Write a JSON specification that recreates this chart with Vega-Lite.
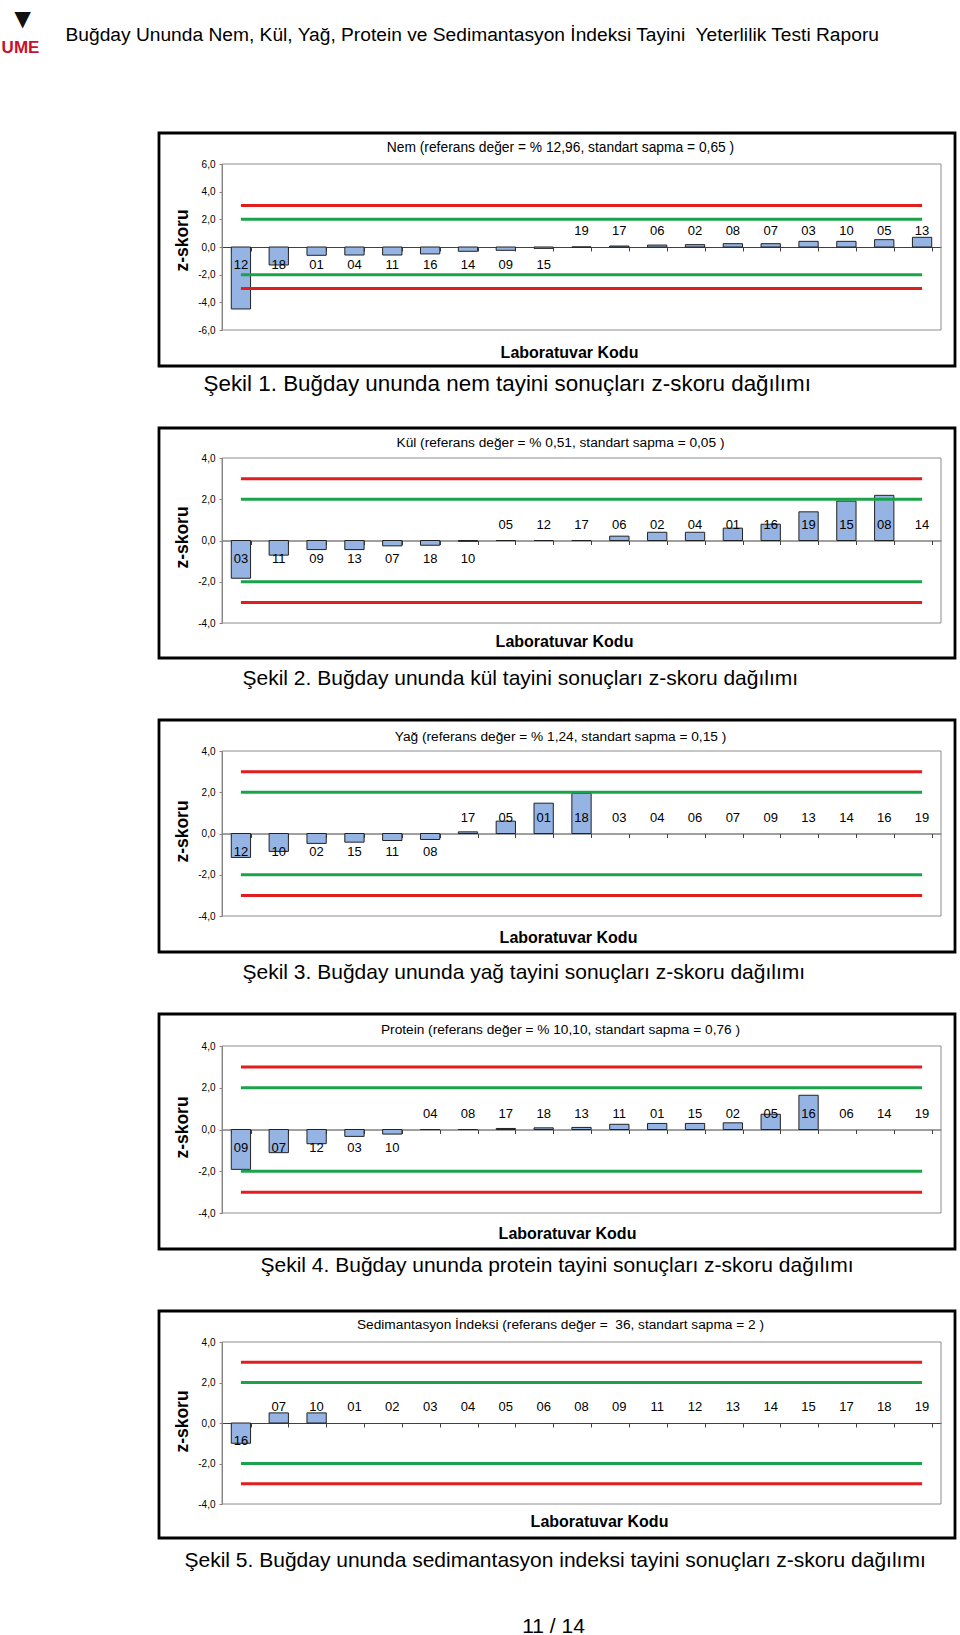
{
 "$schema": "https://vega.github.io/schema/vega-lite/v6.json",
 "autosize": {"type": "none"},
 "padding": {"left": 159, "top": 133, "right": 801, "bottom": 1502},
 "background": "white",
 "spacing": 62,
 "bounds": "flush",
 "datasets": {
  "nem": [{"code":"12","z":-4.48},{"code":"18","z":-1.3},{"code":"01","z":-0.6},{"code":"04","z":-0.58},{"code":"11","z":-0.58},{"code":"16","z":-0.5},{"code":"14","z":-0.31},{"code":"09","z":-0.24},{"code":"15","z":-0.1},{"code":"19","z":0},{"code":"17","z":0.07},{"code":"06","z":0.14},{"code":"02","z":0.17},{"code":"08","z":0.24},{"code":"07","z":0.24},{"code":"03","z":0.41},{"code":"10","z":0.41},{"code":"05","z":0.53},{"code":"13","z":0.7}],
  "kul": [{"code":"03","z":-1.83},{"code":"11","z":-0.71},{"code":"09","z":-0.44},{"code":"13","z":-0.44},{"code":"07","z":-0.26},{"code":"18","z":-0.23},{"code":"10","z":-0.04},{"code":"05","z":0},{"code":"12","z":0},{"code":"17","z":0},{"code":"06","z":0.21},{"code":"02","z":0.4},{"code":"04","z":0.4},{"code":"01","z":0.6},{"code":"16","z":0.79},{"code":"19","z":1.39},{"code":"15","z":1.91},{"code":"08","z":2.19},{"code":"14","z":null}],
  "yag": [{"code":"12","z":-1.16},{"code":"10","z":-0.87},{"code":"02","z":-0.48},{"code":"15","z":-0.42},{"code":"11","z":-0.34},{"code":"08","z":-0.29},{"code":"17","z":0.08},{"code":"05","z":0.6},{"code":"01","z":1.47},{"code":"18","z":1.94},{"code":"03","z":null},{"code":"04","z":null},{"code":"06","z":null},{"code":"07","z":null},{"code":"09","z":null},{"code":"13","z":null},{"code":"14","z":null},{"code":"16","z":null},{"code":"19","z":null}],
  "protein": [{"code":"09","z":-1.91},{"code":"07","z":-1.11},{"code":"12","z":-0.68},{"code":"03","z":-0.33},{"code":"10","z":-0.22},{"code":"04","z":0},{"code":"08","z":0},{"code":"17","z":0.05},{"code":"18","z":0.08},{"code":"13","z":0.1},{"code":"11","z":0.25},{"code":"01","z":0.29},{"code":"15","z":0.29},{"code":"02","z":0.32},{"code":"05","z":0.73},{"code":"16","z":1.64},{"code":"06","z":null},{"code":"14","z":null},{"code":"19","z":null}],
  "sed": [{"code":"16","z":-1.0},{"code":"07","z":0.5},{"code":"10","z":0.5},{"code":"01","z":null},{"code":"02","z":null},{"code":"03","z":null},{"code":"04","z":null},{"code":"05","z":null},{"code":"06","z":null},{"code":"08","z":null},{"code":"09","z":null},{"code":"11","z":null},{"code":"12","z":null},{"code":"13","z":null},{"code":"14","z":null},{"code":"15","z":null},{"code":"17","z":null},{"code":"18","z":null},{"code":"19","z":null}],
  "nemLim": [{"code":"12","v":3,"lim":"p3"},{"code":"13","v":3,"lim":"p3"},{"code":"12","v":2,"lim":"p2"},{"code":"13","v":2,"lim":"p2"},{"code":"12","v":-2,"lim":"m2"},{"code":"13","v":-2,"lim":"m2"},{"code":"12","v":-3,"lim":"m3"},{"code":"13","v":-3,"lim":"m3"}],
  "kulLim": [{"code":"03","v":3,"lim":"p3"},{"code":"14","v":3,"lim":"p3"},{"code":"03","v":2,"lim":"p2"},{"code":"14","v":2,"lim":"p2"},{"code":"03","v":-2,"lim":"m2"},{"code":"14","v":-2,"lim":"m2"},{"code":"03","v":-3,"lim":"m3"},{"code":"14","v":-3,"lim":"m3"}],
  "yagLim": [{"code":"12","v":3,"lim":"p3"},{"code":"19","v":3,"lim":"p3"},{"code":"12","v":2,"lim":"p2"},{"code":"19","v":2,"lim":"p2"},{"code":"12","v":-2,"lim":"m2"},{"code":"19","v":-2,"lim":"m2"},{"code":"12","v":-3,"lim":"m3"},{"code":"19","v":-3,"lim":"m3"}],
  "proteinLim": [{"code":"09","v":3,"lim":"p3"},{"code":"19","v":3,"lim":"p3"},{"code":"09","v":2,"lim":"p2"},{"code":"19","v":2,"lim":"p2"},{"code":"09","v":-2,"lim":"m2"},{"code":"19","v":-2,"lim":"m2"},{"code":"09","v":-3,"lim":"m3"},{"code":"19","v":-3,"lim":"m3"}],
  "sedLim": [{"code":"16","v":3,"lim":"p3"},{"code":"19","v":3,"lim":"p3"},{"code":"16","v":2,"lim":"p2"},{"code":"19","v":2,"lim":"p2"},{"code":"16","v":-2,"lim":"m2"},{"code":"19","v":-2,"lim":"m2"},{"code":"16","v":-3,"lim":"m3"},{"code":"19","v":-3,"lim":"m3"}]
 },
 "vconcat": [
  {
   "width": 796, "height": 233,
   "resolve": {"scale": {"x": "independent"}, "axis": {"x": "independent", "y": "independent"}},
   "layer": [
    {
     "data": {"values": [{"frame": "plot"}]},
     "mark": {"type": "rect", "filled": false, "stroke": "#8c8c8c", "strokeWidth": 1},
     "encoding": {
      "x": {"datum": 0, "type": "quantitative", "scale": {"domain": [0, 1], "range": [63, 782]}, "axis": {"orient": "bottom", "domain": false, "ticks": false, "labels": false, "grid": false, "title": "Şekil 1. Buğday ununda nem tayini sonuçları z-skoru dağılımı", "titleFontSize": 22.4, "titleFontWeight": "normal", "titleX": 44, "titleY": 17, "titleAlign": "left", "titleBaseline": "middle"}},
      "x2": {"datum": 1},
      "y": {"datum": -6, "type": "quantitative", "scale": {"domain": [-6, 6], "range": [197, 31], "nice": false, "zero": false}, "axis": {"orient": "right", "domain": false, "ticks": false, "labels": false, "grid": false, "title": "UME", "titleAngle": 0, "titleX": -935, "titleY": -86, "titleColor": "#c8102e", "titleFontSize": 17, "titleFontWeight": "bold", "titleAlign": "center", "titleBaseline": "middle"}},
      "y2": {"datum": 6}
     }
    },
    {
     "data": {"name": "nem"},
     "mark": {"type": "bar", "fill": "#95b3e3", "stroke": "#222222", "strokeWidth": 1},
     "encoding": {
      "x": {"field": "code", "type": "nominal", "scale": {"domain": ["12","18","01","04","11","16","14","09","15","19","17","06","02","08","07","03","10","05","13"], "range": [63, 782], "paddingInner": 0.49, "paddingOuter": 0.245}, "axis": {"orient": "bottom", "offset": -119, "labels": false, "ticks": true, "tickBand": "extent", "tickSize": 4, "tickColor": "#404040", "domainColor": "#404040", "grid": false, "title": "Laboratuvar Kodu", "titleFontSize": 16, "titleFontWeight": "bold", "titleX": 410, "titleY": 105, "titleAlign": "center", "titleBaseline": "middle"}},
      "y": {"field": "z", "type": "quantitative", "stack": null, "scale": {"domain": [-6, 6], "range": [197, 31], "nice": false, "zero": false}, "axis": {"orient": "left", "offset": -63, "values": [-6, -4, -2, 0, 2, 4, 6], "labelExpr": "replace(replace(format(datum.value, '.1f'), '.', ','), '\u2212', '-')", "labelFontSize": 10, "tickSize": 3, "labelPadding": 4, "tickColor": "#808080", "domainColor": "#808080", "grid": false, "title": "z-skoru", "titleFontSize": 17.5, "titleFontWeight": "bold", "titleAngle": -90, "titleX": -40, "titleY": 107, "titleAlign": "center", "titleBaseline": "middle"}},
      "y2": {"datum": 0}
     }
    },
    {
     "data": {"name": "nemLim"},
     "mark": {"type": "line", "strokeWidth": 3},
     "encoding": {
      "x": {"field": "code", "type": "nominal", "scale": {"domain": ["12","18","01","04","11","16","14","09","15","19","17","06","02","08","07","03","10","05","13"], "range": [63, 782], "paddingInner": 0.49, "paddingOuter": 0.245}, "axis": {"orient": "top", "domain": false, "ticks": false, "labels": false, "grid": false, "title": "Nem (referans değer = % 12,96, standart sapma = 0,65 )", "titleFontSize": 13.8, "titleFontWeight": "normal", "titleX": 401, "titleY": 14, "titleAlign": "center", "titleBaseline": "middle"}},
      "y": {"field": "v", "type": "quantitative", "scale": {"domain": [-6, 6], "range": [197, 31], "nice": false, "zero": false}, "axis": null},
      "color": {"field": "lim", "type": "nominal", "scale": {"domain": ["p3", "p2", "m2", "m3"], "range": ["#e11d1d", "#1ba34b", "#1ba34b", "#e11d1d"]}, "legend": null}
     }
    },
    {
     "data": {"name": "nem"},
     "transform": [{"filter": "datum.z < 0"}],
     "mark": {"type": "text", "dy": 18, "fontSize": 13, "baseline": "middle", "color": "#000"},
     "encoding": {
      "x": {"field": "code", "type": "nominal", "scale": {"domain": ["12","18","01","04","11","16","14","09","15","19","17","06","02","08","07","03","10","05","13"], "range": [63, 782], "paddingInner": 0.49, "paddingOuter": 0.245}, "axis": {"orient": "top", "domain": false, "ticks": false, "labels": false, "grid": false, "title": "Buğday Ununda Nem, Kül, Yağ, Protein ve Sedimantasyon İndeksi Tayini\u00a0 Yeterlilik Testi Raporu", "titleFontSize": 19.2, "titleFontWeight": "normal", "titleX": -94, "titleY": -99, "titleAlign": "left", "titleBaseline": "middle", "titleLimit": 1000}},
      "y": {"datum": 0, "type": "quantitative", "scale": {"domain": [-6, 6], "range": [197, 31], "nice": false, "zero": false}, "axis": null},
      "text": {"field": "code"}
     }
    },
    {
     "data": {"name": "nem"},
     "transform": [{"filter": "!(datum.z < 0)"}],
     "mark": {"type": "text", "dy": -16, "fontSize": 13, "baseline": "middle", "color": "#000"},
     "encoding": {
      "x": {"field": "code", "type": "nominal", "scale": {"domain": ["12","18","01","04","11","16","14","09","15","19","17","06","02","08","07","03","10","05","13"], "range": [63, 782], "paddingInner": 0.49, "paddingOuter": 0.245}, "axis": {"orient": "top", "domain": false, "ticks": false, "labels": false, "grid": false, "title": "▼", "titleFontSize": 28, "titleFontWeight": "normal", "titleX": -137, "titleY": -114, "titleAlign": "center", "titleBaseline": "middle", "titleColor": "#111"}},
      "y": {"datum": 0, "type": "quantitative", "scale": {"domain": [-6, 6], "range": [197, 31], "nice": false, "zero": false}, "axis": null},
      "text": {"field": "code"}
     }
    }
   ]
  },
  {
   "width": 796, "height": 230,
   "resolve": {"scale": {"x": "independent"}, "axis": {"x": "independent", "y": "independent"}},
   "layer": [
    {
     "data": {"values": [{"frame": "plot"}]},
     "mark": {"type": "rect", "filled": false, "stroke": "#8c8c8c", "strokeWidth": 1},
     "encoding": {
      "x": {"datum": 0, "type": "quantitative", "scale": {"domain": [0, 1], "range": [63, 782]}, "axis": {"orient": "bottom", "domain": false, "ticks": false, "labels": false, "grid": false, "title": "Şekil 2. Buğday ununda kül tayini sonuçları z-skoru dağılımı", "titleFontSize": 21, "titleFontWeight": "normal", "titleX": 83, "titleY": 20, "titleAlign": "left", "titleBaseline": "middle"}},
      "x2": {"datum": 1},
      "y": {"datum": -4, "type": "quantitative", "scale": {"domain": [-4, 4], "range": [195, 30], "nice": false, "zero": false}, "axis": null},
      "y2": {"datum": 4}
     }
    },
    {
     "data": {"name": "kul"},
     "mark": {"type": "bar", "fill": "#95b3e3", "stroke": "#222222", "strokeWidth": 1},
     "encoding": {
      "x": {"field": "code", "type": "nominal", "scale": {"domain": ["03","11","09","13","07","18","10","05","12","17","06","02","04","01","16","19","15","08","14"], "range": [63, 782], "paddingInner": 0.49, "paddingOuter": 0.245}, "axis": {"orient": "bottom", "offset": -117.5, "labels": false, "ticks": true, "tickBand": "extent", "tickSize": 4, "tickColor": "#404040", "domainColor": "#404040", "grid": false, "title": "Laboratuvar Kodu", "titleFontSize": 16, "titleFontWeight": "bold", "titleX": 405, "titleY": 101, "titleAlign": "center", "titleBaseline": "middle"}},
      "y": {"field": "z", "type": "quantitative", "stack": null, "scale": {"domain": [-4, 4], "range": [195, 30], "nice": false, "zero": false}, "axis": {"orient": "left", "offset": -63, "values": [-4, -2, 0, 2, 4], "labelExpr": "replace(replace(format(datum.value, '.1f'), '.', ','), '\u2212', '-')", "labelFontSize": 10, "tickSize": 3, "labelPadding": 4, "tickColor": "#808080", "domainColor": "#808080", "grid": false, "title": "z-skoru", "titleFontSize": 17.5, "titleFontWeight": "bold", "titleAngle": -90, "titleX": -40, "titleY": 109, "titleAlign": "center", "titleBaseline": "middle"}},
      "y2": {"datum": 0}
     }
    },
    {
     "data": {"name": "kulLim"},
     "mark": {"type": "line", "strokeWidth": 3},
     "encoding": {
      "x": {"field": "code", "type": "nominal", "scale": {"domain": ["03","11","09","13","07","18","10","05","12","17","06","02","04","01","16","19","15","08","14"], "range": [63, 782], "paddingInner": 0.49, "paddingOuter": 0.245}, "axis": {"orient": "top", "domain": false, "ticks": false, "labels": false, "grid": false, "title": "Kül (referans değer = % 0,51, standart sapma = 0,05 )", "titleFontSize": 13.7, "titleFontWeight": "normal", "titleX": 401, "titleY": 14, "titleAlign": "center", "titleBaseline": "middle"}},
      "y": {"field": "v", "type": "quantitative", "scale": {"domain": [-4, 4], "range": [195, 30], "nice": false, "zero": false}, "axis": null},
      "color": {"field": "lim", "type": "nominal", "scale": {"domain": ["p3", "p2", "m2", "m3"], "range": ["#e11d1d", "#1ba34b", "#1ba34b", "#e11d1d"]}, "legend": null}
     }
    },
    {
     "data": {"name": "kul"},
     "transform": [{"filter": "datum.z < 0"}],
     "mark": {"type": "text", "dy": 18, "fontSize": 13, "baseline": "middle", "color": "#000"},
     "encoding": {
      "x": {"field": "code", "type": "nominal", "scale": {"domain": ["03","11","09","13","07","18","10","05","12","17","06","02","04","01","16","19","15","08","14"], "range": [63, 782], "paddingInner": 0.49, "paddingOuter": 0.245}, "axis": null},
      "y": {"datum": 0, "type": "quantitative", "scale": {"domain": [-4, 4], "range": [195, 30], "nice": false, "zero": false}, "axis": null},
      "text": {"field": "code"}
     }
    },
    {
     "data": {"name": "kul"},
     "transform": [{"filter": "!(datum.z < 0)"}],
     "mark": {"type": "text", "dy": -16, "fontSize": 13, "baseline": "middle", "color": "#000"},
     "encoding": {
      "x": {"field": "code", "type": "nominal", "scale": {"domain": ["03","11","09","13","07","18","10","05","12","17","06","02","04","01","16","19","15","08","14"], "range": [63, 782], "paddingInner": 0.49, "paddingOuter": 0.245}, "axis": null},
      "y": {"datum": 0, "type": "quantitative", "scale": {"domain": [-4, 4], "range": [195, 30], "nice": false, "zero": false}, "axis": null},
      "text": {"field": "code"}
     }
    }
   ]
  },
  {
   "width": 796, "height": 232,
   "resolve": {"scale": {"x": "independent"}, "axis": {"x": "independent", "y": "independent"}},
   "layer": [
    {
     "data": {"values": [{"frame": "plot"}]},
     "mark": {"type": "rect", "filled": false, "stroke": "#8c8c8c", "strokeWidth": 1},
     "encoding": {
      "x": {"datum": 0, "type": "quantitative", "scale": {"domain": [0, 1], "range": [63, 782]}, "axis": {"orient": "bottom", "domain": false, "ticks": false, "labels": false, "grid": false, "title": "Şekil 3. Buğday ununda yağ tayini sonuçları z-skoru dağılımı", "titleFontSize": 21, "titleFontWeight": "normal", "titleX": 83, "titleY": 20, "titleAlign": "left", "titleBaseline": "middle"}},
      "x2": {"datum": 1},
      "y": {"datum": -4, "type": "quantitative", "scale": {"domain": [-4, 4], "range": [196, 31], "nice": false, "zero": false}, "axis": null},
      "y2": {"datum": 4}
     }
    },
    {
     "data": {"name": "yag"},
     "mark": {"type": "bar", "fill": "#95b3e3", "stroke": "#222222", "strokeWidth": 1},
     "encoding": {
      "x": {"field": "code", "type": "nominal", "scale": {"domain": ["12","10","02","15","11","08","17","05","01","18","03","04","06","07","09","13","14","16","19"], "range": [63, 782], "paddingInner": 0.49, "paddingOuter": 0.245}, "axis": {"orient": "bottom", "offset": -118.5, "labels": false, "ticks": true, "tickBand": "extent", "tickSize": 4, "tickColor": "#404040", "domainColor": "#404040", "grid": false, "title": "Laboratuvar Kodu", "titleFontSize": 16, "titleFontWeight": "bold", "titleX": 409, "titleY": 103.5, "titleAlign": "center", "titleBaseline": "middle"}},
      "y": {"field": "z", "type": "quantitative", "stack": null, "scale": {"domain": [-4, 4], "range": [196, 31], "nice": false, "zero": false}, "axis": {"orient": "left", "offset": -63, "values": [-4, -2, 0, 2, 4], "labelExpr": "replace(replace(format(datum.value, '.1f'), '.', ','), '\u2212', '-')", "labelFontSize": 10, "tickSize": 3, "labelPadding": 4, "tickColor": "#808080", "domainColor": "#808080", "grid": false, "title": "z-skoru", "titleFontSize": 17.5, "titleFontWeight": "bold", "titleAngle": -90, "titleX": -40, "titleY": 111, "titleAlign": "center", "titleBaseline": "middle"}},
      "y2": {"datum": 0}
     }
    },
    {
     "data": {"name": "yagLim"},
     "mark": {"type": "line", "strokeWidth": 3},
     "encoding": {
      "x": {"field": "code", "type": "nominal", "scale": {"domain": ["12","10","02","15","11","08","17","05","01","18","03","04","06","07","09","13","14","16","19"], "range": [63, 782], "paddingInner": 0.49, "paddingOuter": 0.245}, "axis": {"orient": "top", "domain": false, "ticks": false, "labels": false, "grid": false, "title": "Yağ (referans değer = % 1,24, standart sapma = 0,15 )", "titleFontSize": 13.7, "titleFontWeight": "normal", "titleX": 401, "titleY": 16, "titleAlign": "center", "titleBaseline": "middle"}},
      "y": {"field": "v", "type": "quantitative", "scale": {"domain": [-4, 4], "range": [196, 31], "nice": false, "zero": false}, "axis": null},
      "color": {"field": "lim", "type": "nominal", "scale": {"domain": ["p3", "p2", "m2", "m3"], "range": ["#e11d1d", "#1ba34b", "#1ba34b", "#e11d1d"]}, "legend": null}
     }
    },
    {
     "data": {"name": "yag"},
     "transform": [{"filter": "datum.z < 0"}],
     "mark": {"type": "text", "dy": 18, "fontSize": 13, "baseline": "middle", "color": "#000"},
     "encoding": {
      "x": {"field": "code", "type": "nominal", "scale": {"domain": ["12","10","02","15","11","08","17","05","01","18","03","04","06","07","09","13","14","16","19"], "range": [63, 782], "paddingInner": 0.49, "paddingOuter": 0.245}, "axis": null},
      "y": {"datum": 0, "type": "quantitative", "scale": {"domain": [-4, 4], "range": [196, 31], "nice": false, "zero": false}, "axis": null},
      "text": {"field": "code"}
     }
    },
    {
     "data": {"name": "yag"},
     "transform": [{"filter": "!(datum.z < 0)"}],
     "mark": {"type": "text", "dy": -16, "fontSize": 13, "baseline": "middle", "color": "#000"},
     "encoding": {
      "x": {"field": "code", "type": "nominal", "scale": {"domain": ["12","10","02","15","11","08","17","05","01","18","03","04","06","07","09","13","14","16","19"], "range": [63, 782], "paddingInner": 0.49, "paddingOuter": 0.245}, "axis": null},
      "y": {"datum": 0, "type": "quantitative", "scale": {"domain": [-4, 4], "range": [196, 31], "nice": false, "zero": false}, "axis": null},
      "text": {"field": "code"}
     }
    }
   ]
  },
  {
   "width": 796, "height": 235,
   "resolve": {"scale": {"x": "independent"}, "axis": {"x": "independent", "y": "independent"}},
   "layer": [
    {
     "data": {"values": [{"frame": "plot"}]},
     "mark": {"type": "rect", "filled": false, "stroke": "#8c8c8c", "strokeWidth": 1},
     "encoding": {
      "x": {"datum": 0, "type": "quantitative", "scale": {"domain": [0, 1], "range": [63, 782]}, "axis": {"orient": "bottom", "domain": false, "ticks": false, "labels": false, "grid": false, "title": "Şekil 4. Buğday ununda protein tayini sonuçları z-skoru dağılımı", "titleFontSize": 21, "titleFontWeight": "normal", "titleX": 101, "titleY": 16, "titleAlign": "left", "titleBaseline": "middle"}},
      "x2": {"datum": 1},
      "y": {"datum": -4, "type": "quantitative", "scale": {"domain": [-4, 4], "range": [199, 32], "nice": false, "zero": false}, "axis": null},
      "y2": {"datum": 4}
     }
    },
    {
     "data": {"name": "protein"},
     "mark": {"type": "bar", "fill": "#95b3e3", "stroke": "#222222", "strokeWidth": 1},
     "encoding": {
      "x": {"field": "code", "type": "nominal", "scale": {"domain": ["09","07","12","03","10","04","08","17","18","13","11","01","15","02","05","16","06","14","19"], "range": [63, 782], "paddingInner": 0.49, "paddingOuter": 0.245}, "axis": {"orient": "bottom", "offset": -119.5, "labels": false, "ticks": true, "tickBand": "extent", "tickSize": 4, "tickColor": "#404040", "domainColor": "#404040", "grid": false, "title": "Laboratuvar Kodu", "titleFontSize": 16, "titleFontWeight": "bold", "titleX": 408, "titleY": 103.5, "titleAlign": "center", "titleBaseline": "middle"}},
      "y": {"field": "z", "type": "quantitative", "stack": null, "scale": {"domain": [-4, 4], "range": [199, 32], "nice": false, "zero": false}, "axis": {"orient": "left", "offset": -63, "values": [-4, -2, 0, 2, 4], "labelExpr": "replace(replace(format(datum.value, '.1f'), '.', ','), '\u2212', '-')", "labelFontSize": 10, "tickSize": 3, "labelPadding": 4, "tickColor": "#808080", "domainColor": "#808080", "grid": false, "title": "z-skoru", "titleFontSize": 17.5, "titleFontWeight": "bold", "titleAngle": -90, "titleX": -40, "titleY": 113, "titleAlign": "center", "titleBaseline": "middle"}},
      "y2": {"datum": 0}
     }
    },
    {
     "data": {"name": "proteinLim"},
     "mark": {"type": "line", "strokeWidth": 3},
     "encoding": {
      "x": {"field": "code", "type": "nominal", "scale": {"domain": ["09","07","12","03","10","04","08","17","18","13","11","01","15","02","05","16","06","14","19"], "range": [63, 782], "paddingInner": 0.49, "paddingOuter": 0.245}, "axis": {"orient": "top", "domain": false, "ticks": false, "labels": false, "grid": false, "title": "Protein (referans değer = % 10,10, standart sapma = 0,76 )", "titleFontSize": 13.7, "titleFontWeight": "normal", "titleX": 401, "titleY": 15, "titleAlign": "center", "titleBaseline": "middle"}},
      "y": {"field": "v", "type": "quantitative", "scale": {"domain": [-4, 4], "range": [199, 32], "nice": false, "zero": false}, "axis": null},
      "color": {"field": "lim", "type": "nominal", "scale": {"domain": ["p3", "p2", "m2", "m3"], "range": ["#e11d1d", "#1ba34b", "#1ba34b", "#e11d1d"]}, "legend": null}
     }
    },
    {
     "data": {"name": "protein"},
     "transform": [{"filter": "datum.z < 0"}],
     "mark": {"type": "text", "dy": 18, "fontSize": 13, "baseline": "middle", "color": "#000"},
     "encoding": {
      "x": {"field": "code", "type": "nominal", "scale": {"domain": ["09","07","12","03","10","04","08","17","18","13","11","01","15","02","05","16","06","14","19"], "range": [63, 782], "paddingInner": 0.49, "paddingOuter": 0.245}, "axis": null},
      "y": {"datum": 0, "type": "quantitative", "scale": {"domain": [-4, 4], "range": [199, 32], "nice": false, "zero": false}, "axis": null},
      "text": {"field": "code"}
     }
    },
    {
     "data": {"name": "protein"},
     "transform": [{"filter": "!(datum.z < 0)"}],
     "mark": {"type": "text", "dy": -16, "fontSize": 13, "baseline": "middle", "color": "#000"},
     "encoding": {
      "x": {"field": "code", "type": "nominal", "scale": {"domain": ["09","07","12","03","10","04","08","17","18","13","11","01","15","02","05","16","06","14","19"], "range": [63, 782], "paddingInner": 0.49, "paddingOuter": 0.245}, "axis": null},
      "y": {"datum": 0, "type": "quantitative", "scale": {"domain": [-4, 4], "range": [199, 32], "nice": false, "zero": false}, "axis": null},
      "text": {"field": "code"}
     }
    }
   ]
  },
  {
   "width": 796, "height": 227,
   "resolve": {"scale": {"x": "independent"}, "axis": {"x": "independent", "y": "independent"}},
   "layer": [
    {
     "data": {"values": [{"frame": "plot"}]},
     "mark": {"type": "rect", "filled": false, "stroke": "#8c8c8c", "strokeWidth": 1},
     "encoding": {
      "x": {"datum": 0, "type": "quantitative", "scale": {"domain": [0, 1], "range": [63, 782]}, "axis": {"orient": "bottom", "domain": false, "ticks": false, "labels": false, "grid": false, "title": "Şekil 5. Buğday ununda sedimantasyon indeksi tayini sonuçları z-skoru dağılımı", "titleFontSize": 21, "titleFontWeight": "normal", "titleX": 25, "titleY": 22, "titleAlign": "left", "titleBaseline": "middle", "titleLimit": 1000}},
      "x2": {"datum": 1},
      "y": {"datum": -4, "type": "quantitative", "scale": {"domain": [-4, 4], "range": [193, 31], "nice": false, "zero": false}, "axis": {"orient": "right", "domain": false, "ticks": false, "labels": false, "grid": false, "title": "11 / 14", "titleAngle": 0, "titleX": -402, "titleY": 315, "titleFontSize": 21, "titleFontWeight": "normal", "titleAlign": "center", "titleBaseline": "middle"}},
      "y2": {"datum": 4}
     }
    },
    {
     "data": {"name": "sed"},
     "mark": {"type": "bar", "fill": "#95b3e3", "stroke": "#222222", "strokeWidth": 1},
     "encoding": {
      "x": {"field": "code", "type": "nominal", "scale": {"domain": ["16","07","10","01","02","03","04","05","06","08","09","11","12","13","14","15","17","18","19"], "range": [63, 782], "paddingInner": 0.49, "paddingOuter": 0.245}, "axis": {"orient": "bottom", "offset": -115, "labels": false, "ticks": true, "tickBand": "extent", "tickSize": 4, "tickColor": "#404040", "domainColor": "#404040", "grid": false, "title": "Laboratuvar Kodu", "titleFontSize": 16, "titleFontWeight": "bold", "titleX": 440, "titleY": 98, "titleAlign": "center", "titleBaseline": "middle"}},
      "y": {"field": "z", "type": "quantitative", "stack": null, "scale": {"domain": [-4, 4], "range": [193, 31], "nice": false, "zero": false}, "axis": {"orient": "left", "offset": -63, "values": [-4, -2, 0, 2, 4], "labelExpr": "replace(replace(format(datum.value, '.1f'), '.', ','), '\u2212', '-')", "labelFontSize": 10, "tickSize": 3, "labelPadding": 4, "tickColor": "#808080", "domainColor": "#808080", "grid": false, "title": "z-skoru", "titleFontSize": 17.5, "titleFontWeight": "bold", "titleAngle": -90, "titleX": -40, "titleY": 110, "titleAlign": "center", "titleBaseline": "middle"}},
      "y2": {"datum": 0}
     }
    },
    {
     "data": {"name": "sedLim"},
     "mark": {"type": "line", "strokeWidth": 3},
     "encoding": {
      "x": {"field": "code", "type": "nominal", "scale": {"domain": ["16","07","10","01","02","03","04","05","06","08","09","11","12","13","14","15","17","18","19"], "range": [63, 782], "paddingInner": 0.49, "paddingOuter": 0.245}, "axis": {"orient": "top", "domain": false, "ticks": false, "labels": false, "grid": false, "title": "Sedimantasyon İndeksi (referans değer =\u00a0 36, standart sapma = 2 )", "titleFontSize": 13.7, "titleFontWeight": "normal", "titleX": 401, "titleY": 13, "titleAlign": "center", "titleBaseline": "middle"}},
      "y": {"field": "v", "type": "quantitative", "scale": {"domain": [-4, 4], "range": [193, 31], "nice": false, "zero": false}, "axis": null},
      "color": {"field": "lim", "type": "nominal", "scale": {"domain": ["p3", "p2", "m2", "m3"], "range": ["#e11d1d", "#1ba34b", "#1ba34b", "#e11d1d"]}, "legend": null}
     }
    },
    {
     "data": {"name": "sed"},
     "transform": [{"filter": "datum.z < 0"}],
     "mark": {"type": "text", "dy": 18, "fontSize": 13, "baseline": "middle", "color": "#000"},
     "encoding": {
      "x": {"field": "code", "type": "nominal", "scale": {"domain": ["16","07","10","01","02","03","04","05","06","08","09","11","12","13","14","15","17","18","19"], "range": [63, 782], "paddingInner": 0.49, "paddingOuter": 0.245}, "axis": null},
      "y": {"datum": 0, "type": "quantitative", "scale": {"domain": [-4, 4], "range": [193, 31], "nice": false, "zero": false}, "axis": null},
      "text": {"field": "code"}
     }
    },
    {
     "data": {"name": "sed"},
     "transform": [{"filter": "!(datum.z < 0)"}],
     "mark": {"type": "text", "dy": -16, "fontSize": 13, "baseline": "middle", "color": "#000"},
     "encoding": {
      "x": {"field": "code", "type": "nominal", "scale": {"domain": ["16","07","10","01","02","03","04","05","06","08","09","11","12","13","14","15","17","18","19"], "range": [63, 782], "paddingInner": 0.49, "paddingOuter": 0.245}, "axis": null},
      "y": {"datum": 0, "type": "quantitative", "scale": {"domain": [-4, 4], "range": [193, 31], "nice": false, "zero": false}, "axis": null},
      "text": {"field": "code"}
     }
    }
   ]
  }
 ],
 "config": {
  "font": "Liberation Sans",
  "view": {"stroke": "#000000", "strokeWidth": 2.8, "fill": "white"},
  "axis": {"labelColor": "#000", "titleColor": "#000", "labelFont": "Liberation Sans", "titleFont": "Liberation Sans"},
  "text": {"font": "Liberation Sans"}
 }
}
